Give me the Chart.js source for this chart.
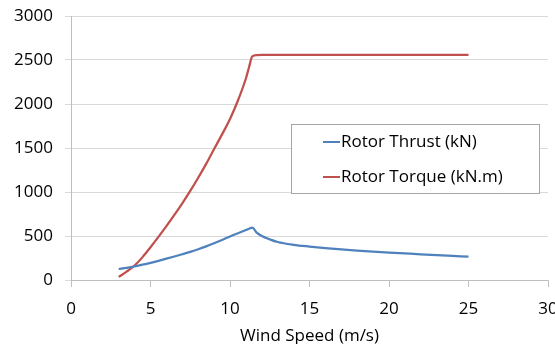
<!DOCTYPE html>
<html>
<head>
<meta charset="utf-8">
<script src="https://cdn.jsdelivr.net/npm/chart.js@4.4.1/dist/chart.umd.min.js"></script>
<style>
  html, body { margin: 0; padding: 0; background: #fff; overflow: hidden; }
  #wrap { position: relative; width: 570px; height: 344px; }
</style>
</head>
<body>
<div id="wrap"><canvas id="chart-rotor"></canvas></div>
<script>
// Wind speed (m/s) and rotor loads
const windSpeed = [3, 3.5, 4, 4.5, 5, 5.5, 6, 6.5, 7, 7.5, 8, 8.5, 9, 9.5, 10, 10.5, 11, 11.2, 11.4, 11.7, 12, 12.5, 13, 14, 15, 16, 17, 18, 19, 20, 21, 22, 23, 24, 25];
const rotorThrust = [125, 139, 155, 174, 195, 218, 242, 267, 293, 320, 350, 382, 417, 455, 495, 532, 568, 582, 595, 535, 500, 462, 432, 400, 380, 363, 348, 335, 323, 312, 302, 292, 283, 274, 265];
const rotorTorque = [35, 95, 165, 260, 372, 490, 612, 740, 872, 1012, 1162, 1320, 1488, 1655, 1830, 2040, 2290, 2420, 2540, 2555, 2557, 2557, 2557, 2557, 2557, 2557, 2557, 2557, 2557, 2557, 2557, 2557, 2557, 2557, 2557];
const seriesLabels = ['Rotor Thrust (kN)', 'Rotor Torque (kN.m)'];
const seriesColors = ['#4f81bd', '#c0504d'];
const xTitle = 'Wind Speed (m/s)';

const FONT = '"Open Sans", "Noto Sans", sans-serif';

function toPoints(values) {
    return windSpeed.map((w, i) => ({ x: w, y: values[i] }));
}

// legend box drawn inside the plot area, like the Excel original
const boxLegend = {
    id: 'boxLegend',
    afterDraw(chart) {
        const ctx = chart.ctx;
        ctx.save();
        ctx.fillStyle = '#ffffff';
        ctx.strokeStyle = '#a6a6a6';
        ctx.lineWidth = 1;
        ctx.fillRect(291.5, 124.5, 248, 69);
        ctx.strokeRect(291.5, 124.5, 248, 69);
        ctx.font = '17px ' + FONT;
        ctx.textBaseline = 'middle';
        ctx.textAlign = 'left';
        chart.data.datasets.forEach((ds, i) => {
            const y = 142 + i * 35;
            ctx.strokeStyle = ds.borderColor;
            ctx.lineWidth = 2;
            ctx.beginPath();
            ctx.moveTo(323, y);
            ctx.lineTo(340, y);
            ctx.stroke();
            ctx.fillStyle = '#000000';
            ctx.fillText(ds.label, 341, y);
        });
        ctx.restore();
    }
};

new Chart(document.getElementById('chart-rotor'), {
    type: 'line',
    data: {
        datasets: [
            {
                label: seriesLabels[0],
                data: toPoints(rotorThrust),
                borderColor: seriesColors[0],
                backgroundColor: seriesColors[0],
                borderWidth: 2.25,
                pointRadius: 0,
                cubicInterpolationMode: 'monotone',
                fill: false
            },
            {
                label: seriesLabels[1],
                data: toPoints(rotorTorque),
                borderColor: seriesColors[1],
                backgroundColor: seriesColors[1],
                borderWidth: 2.25,
                pointRadius: 0,
                cubicInterpolationMode: 'monotone',
                fill: false
            }
        ]
    },
    options: {
        responsive: true,
        maintainAspectRatio: false,
        animation: false,
        layout: { padding: { top: 0, right: 22, left: 0, bottom: 0 } },
        plugins: {
            legend: { display: false },
            tooltip: { enabled: false },
            title: { display: false }
        },
        scales: {
            x: {
                type: 'linear',
                min: 0,
                max: 30,
                ticks: {
                    stepSize: 5,
                    padding: 12,
                    color: '#000',
                    font: { family: FONT, size: 17 }
                },
                grid: {
                    drawOnChartArea: false,
                    drawTicks: true,
                    tickLength: 7,
                    color: '#bfbfbf'
                },
                border: { color: '#bfbfbf' },
                title: {
                    display: true,
                    text: xTitle,
                    color: '#000',
                    font: { family: FONT, size: 17 },
                    padding: { top: 4, bottom: -2 }
                },
                afterFit(scale) { scale.height = 64; }
            },
            y: {
                min: 0,
                max: 3000,
                ticks: {
                    stepSize: 500,
                    padding: 12,
                    color: '#000',
                    font: { family: FONT, size: 17 },
                    callback: (v) => String(v)
                },
                grid: {
                    color: '#d9d9d9',
                    tickLength: 6
                },
                border: { color: '#bfbfbf' },
                afterFit(scale) {
                    scale.width = 71;
                    scale.paddingTop = 16;
                }
            }
        }
    },
    plugins: [boxLegend]
});
</script>
</body>
</html>
